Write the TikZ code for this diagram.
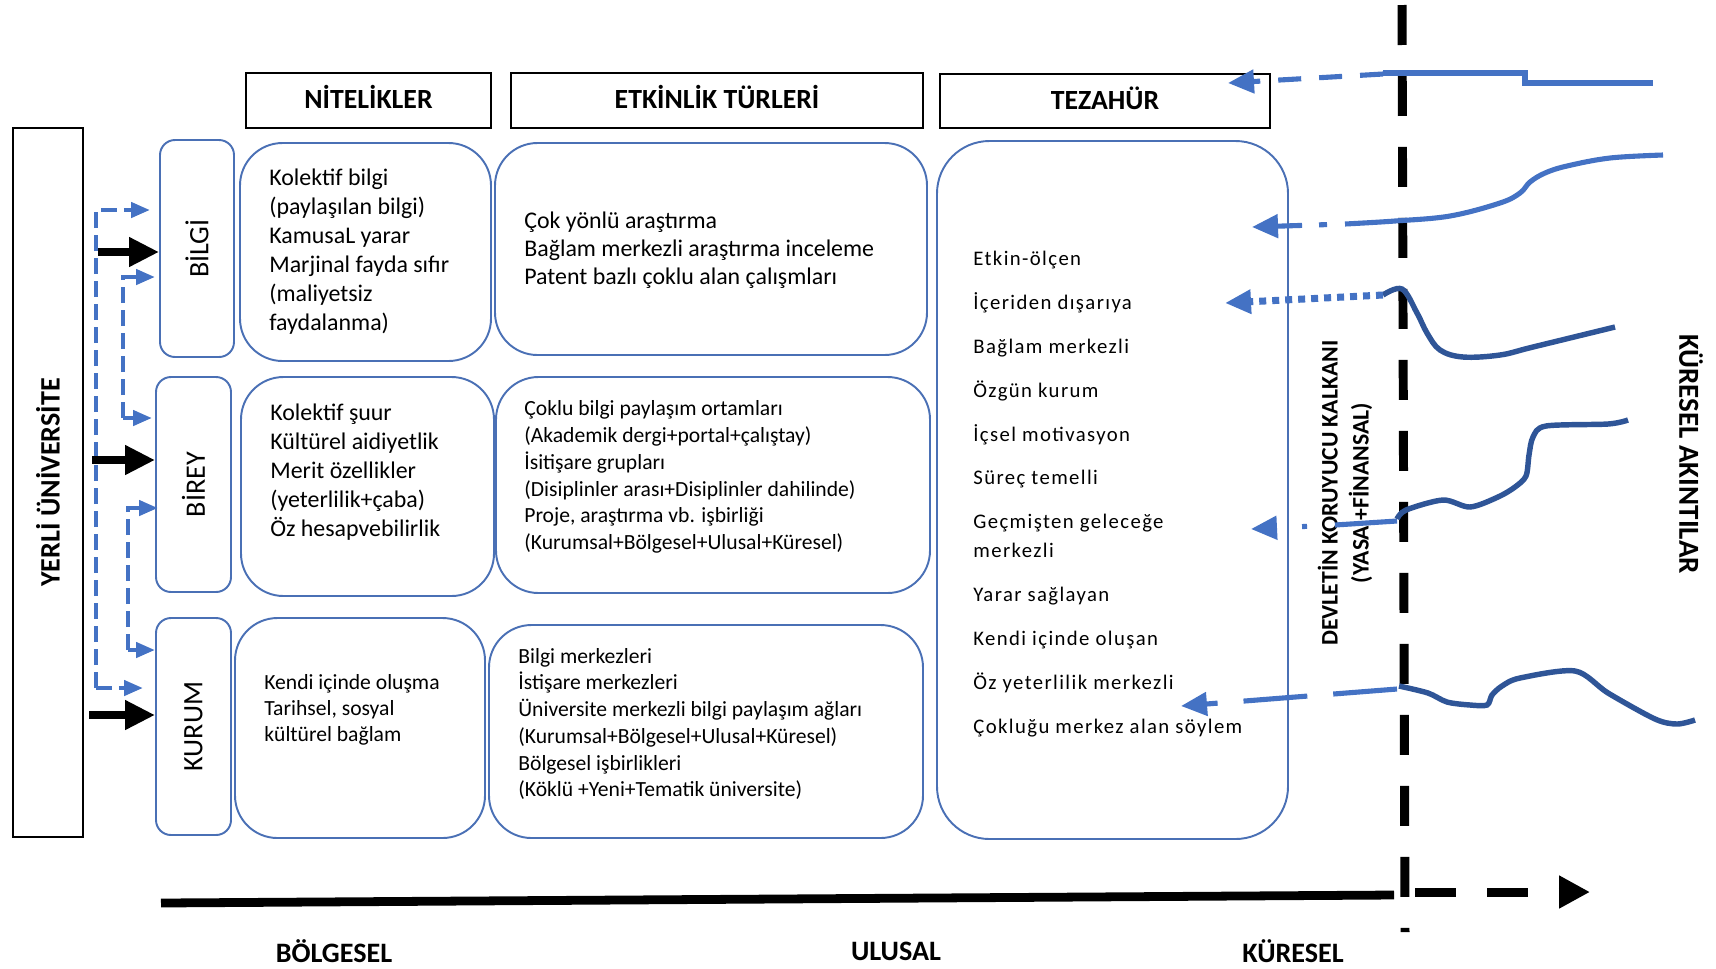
\documentclass[tikz,border=0pt]{standalone}
\usepackage{fontspec}
\setmainfont{Carlito}
\newfontfamily\tezfont[LetterSpace=6.7]{Carlito}
\usetikzlibrary{arrows.meta,fit}
\definecolor{lb}{HTML}{4472C4}
\definecolor{db}{HTML}{2F5597}
\definecolor{bx}{HTML}{4A70B5}
\begin{document}
\begin{tikzpicture}[x=0.02cm,y=-0.02cm,
  hdr/.style={draw=black,line width=1.2pt,inner sep=0pt},
  rbox/.style={draw=bx,line width=1.1pt,inner sep=0pt,rounded corners=#1},
  rbox/.default=0.85cm,
  hdrtxt/.style={yshift=1.8pt,font=\fontsize{15.8}{19}\selectfont\bfseries},
  sidetxt/.style={rotate=90,font=\fontsize{16}{19}\selectfont},
  bigtxt/.style={align=left,anchor=west,inner sep=0pt,font=\fontsize{13.6}{16.5}\selectfont},
  smalltxt/.style={align=left,anchor=west,inner sep=0pt,font=\fontsize{12.3}{15.2}\selectfont},
  scaletxt/.style={font=\fontsize{16}{19}\selectfont\bfseries},
  blackarr/.style={line width=4.2pt,-{Triangle[length=0.6cm,width=0.56cm]}},
  bluearr/.style={draw=lb,line width=2.5pt,dash pattern=on 0.32cm off 0.14cm,-{Triangle[length=0.38cm,width=0.3cm]}},
  flowarr/.style={draw=lb,line width=2.9pt,-{Triangle[length=0.52cm,width=0.46cm]}},
  lightcurve/.style={draw=lb,line width=2.9pt},
  darkcurve/.style={draw=db,line width=3.1pt},
  shield/.style={line width=5.1pt,dash pattern=on 0.8cm off 0.62cm},
]
\useasboundingbox (0,0) rectangle (1716,968);

% left main box
\node[fit={(13,128) (83,837)}, draw=black, line width=1.2pt, inner sep=0pt] (yerli) {};
\node[rotate=90, scaletxt] (yerlitxt) at (yerli.center) {YERLİ ÜNİVERSİTE};

% headers
\node[fit={(246,73) (491,128)}, hdr] (hn) {};
\node[hdrtxt] (hntxt) at (hn.center) {NİTELİKLER};
\node[fit={(511,73) (923,128)}, hdr] (he) {};
\node[hdrtxt] (hetxt) at (he.center) {ETKİNLİK TÜRLERİ};
\node[fit={(940,74) (1270,128)}, hdr] (ht) {};
\node[hdrtxt] (httxt) at (ht.center) {TEZAHÜR};

% row labels
\node[fit={(160,140) (234,357)}, rbox=0.3cm] (bilgi) {};
\node[sidetxt] (bilgitxt) at (bilgi.center) {BİLGİ};
\node[fit={(156,377) (231,592)}, rbox=0.3cm] (birey) {};
\node[sidetxt] (bireytxt) at (birey.center) {BİREY};
\node[fit={(156,618) (231,835)}, rbox=0.3cm] (kurum) {};
\node[sidetxt] (kurumtxt) at (kurum.center) {KURUM};

% content boxes
\node[fit={(240,143) (491,361)}, rbox] (n1) {};
\node[fit={(241,377) (494,596)}, rbox] (n2) {};
\node[fit={(235,618) (485,838)}, rbox] (n3) {};
\node[fit={(495,143) (927,355)}, rbox] (e1) {};
\node[fit={(496,377) (930,593)}, rbox] (e2) {};
\node[fit={(489,625) (923,838)}, rbox] (e3) {};
\node[fit={(937,141) (1288,839)}, rbox=1.05cm] (tez) {};

\node[bigtxt] (n1t) at (269,252) {Kolektif bilgi\\(paylaşılan bilgi)\\KamusaL yarar\\Marjinal fayda sıfır\\(maliyetsiz\\faydalanma)};
\node[bigtxt, font=\fontsize{13.6}{15.9}\selectfont] (e1t) at (524,250) {Çok yönlü araştırma\\Bağlam merkezli araştırma inceleme\\Patent bazlı çoklu alan çalışmları};
\node[bigtxt] (n2t) at (270,472) {Kolektif şuur\\Kültürel aidiyetlik\\Merit özellikler\\(yeterlilik+çaba)\\Öz hesapvebilirlik};
\node[smalltxt] (e2t) at (524,477) {Çoklu bilgi paylaşım ortamları\\(Akademik dergi+portal+çalıştay)\\İsitişare grupları\\(Disiplinler arası+Disiplinler dahilinde)\\Proje, araştırma vb. işbirliği\\(Kurumsal+Bölgesel+Ulusal+Küresel)};
\node[smalltxt, font=\fontsize{12.3}{14.8}\selectfont] (n3t) at (264,710) {Kendi içinde oluşma\\Tarihsel, sosyal\\kültürel bağlam};
\node[smalltxt] (e3t) at (518,724) {Bilgi merkezleri\\İstişare merkezleri\\Üniversite merkezli bilgi paylaşım ağları\\(Kurumsal+Bölgesel+Ulusal+Küresel)\\Bölgesel işbirlikleri\\(Köklü +Yeni+Tematik üniversite)};
\node[align=left, anchor=west, inner sep=0pt, font=\tezfont\fontsize{11.8}{25}\selectfont] (tezt) at (973,494) {Etkin-ölçen\\İçeriden dışarıya\\Bağlam merkezli\\Özgün kurum\\İçsel motivasyon\\Süreç temelli\\Geçmişten geleceğe\\[-8.5pt]merkezli\\Yarar sağlayan\\Kendi içinde oluşan\\Öz yeterlilik merkezli\\Çokluğu merkez alan söylem};

% side labels on the right
\node[rotate=90, align=center, font=\fontsize{13.5}{17.6}\selectfont\bfseries] (kalkan) at (1345,493) {DEVLETİN KORUYUCU KALKANI\\(YASA +FİNANSAL)};
\node[rotate=-90, font=\fontsize{16.5}{19}\selectfont\bfseries] (akinti) at (1691,454) {KÜRESEL AKINTILAR};

% scale labels
\node[scaletxt] (bolge) at (334,951) {BÖLGESEL};
\node[scaletxt] (ulusal) at (896,951) {ULUSAL};
\node[scaletxt] (kures) at (1293,951) {KÜRESEL};

% left arrows
\coordinate (ot) at (96,210); \coordinate (ob) at (96,688);
\coordinate (otT) at (150,210); \coordinate (obT) at (143,688);
\coordinate (i1t) at (123,277); \coordinate (i1b) at (123,418);
\coordinate (i1tT) at (155,277); \coordinate (i1bT) at (152,418);
\coordinate (i2t) at (128,508); \coordinate (i2b) at (128,650);
\coordinate (i2tT) at (158,508); \coordinate (i2bT) at (155,650);
\draw[bluearr] (ob) -- (ot) -- (otT);
\draw[bluearr] (ob) -- (obT);
\draw[bluearr] (i1b) -- (i1t) -- (i1tT);
\draw[bluearr] (i1b) -- (i1bT);
\draw[bluearr] (i2b) -- (i2t) -- (i2tT);
\draw[bluearr] (i2b) -- (i2bT);
\coordinate (k1) at (98,252); \coordinate (k2) at (92,460); \coordinate (k3) at (89,715);
\draw[blackarr] (k1) -- (k1 -| bilgi.west);
\draw[blackarr] (k2) -- (k2 -| birey.west);
\draw[blackarr] (k3) -- (k3 -| kurum.west);

% bottom axis
\coordinate (axL) at (161,903); \coordinate (axR) at (1394,895);
\draw[line width=5pt] (axL) -- (axR);

% shield line
\coordinate (shT) at (1402,5); \coordinate (shB) at (1405,932);
\draw[shield] (shT) -- (shB);
\coordinate (hzS) at (1415,892); \coordinate (hzE) at (1590,892);
\draw[shield, dash pattern=on 0.82cm off 0.62cm, -{Triangle[length=0.62cm,width=0.62cm]}] (hzS) -- (hzE);

% global currents
\draw[lightcurve] (1383,73) -- (1525,73) -- (1525,83) -- (1653,83);
\coordinate (f1s) at (1383,74); \coordinate (f1e) at (1228,83);
\draw[flowarr, dash pattern=on 0.46cm off 0.36cm] (f1s) -- (f1e);

\draw[lightcurve] plot[smooth, tension=0.6] coordinates {(1345,224) (1395,221) (1450,216) (1500,203) (1520,193) (1530,182) (1545,173) (1567,166) (1610,158) (1663,155)};
\coordinate (f2s) at (1345,224); \coordinate (f2e) at (1252,227);
\draw[flowarr, dash pattern=on 0pt off 0.36cm on 0.16cm off 0.34cm on 2cm] (f2s) -- (f2e);

\draw[darkcurve] plot[smooth, tension=0.6] coordinates {(1383,295) (1402,289) (1417,313) (1427,333) (1440,350) (1463,357) (1500,355) (1533,347) (1615,327)};
\coordinate (f3s) at (1383,295); \coordinate (f3e) at (1225,303);
\draw[flowarr, line width=4pt, dash pattern=on 0.14cm off 0.12cm] (f3s) -- (f3e);

\coordinate (f4s) at (1335,525); \coordinate (f4m) at (1397,521); \coordinate (f4e) at (1251,529);
\draw[lightcurve] (f4s) -- (f4m);
\draw[darkcurve] plot[smooth, tension=0.5] coordinates {(1397,519) (1406,510) (1443,500) (1470,507) (1498,497) (1515,487) (1526,476) (1529,455) (1533,437) (1546,426) (1608,424) (1628,420)};
\draw[flowarr, dash pattern=on 0pt off 0.56cm on 0.1cm off 0.52cm on 2cm] (f4s) -- (f4e);

\draw[darkcurve] plot[smooth, tension=0.5] coordinates {(1399,686) (1428,693) (1447,702) (1470,705) (1487,705) (1492,695) (1502,686) (1520,678) (1575,671) (1608,693) (1655,719) (1677,724) (1695,720)};
\coordinate (f5s) at (1397,689); \coordinate (f5e) at (1181,706);
\draw[flowarr, dash pattern=on 1.28cm off 0.52cm] (f5s) -- (f5e);
\end{tikzpicture}
\end{document}
